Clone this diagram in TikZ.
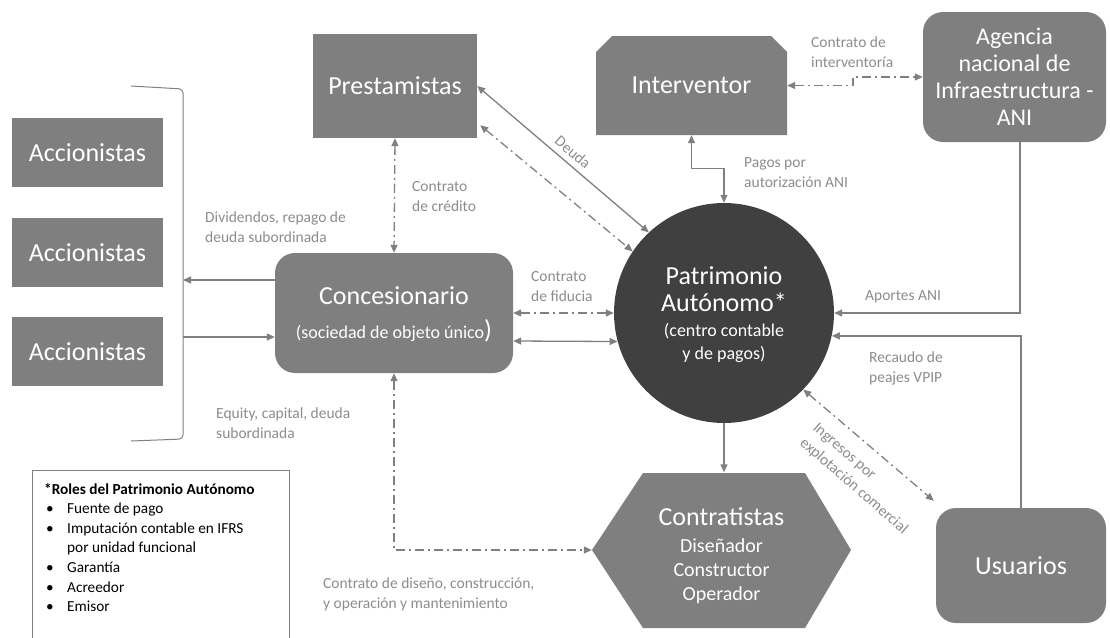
\documentclass[tikz,border=0pt]{standalone}
\usepackage{fontspec}
\setmainfont{Carlito}
\usetikzlibrary{arrows.meta,calc}
\definecolor{boxg}{HTML}{7F7F7F}
\definecolor{darkg}{HTML}{404040}
\definecolor{lineg}{HTML}{808080}
\definecolor{labg}{HTML}{8C8C8C}
\newcommand{\rolebul}{\makebox[23pt][l]{\hspace{2pt}\textbullet}}
\newcommand{\bigf}{\fontsize{26}{28}\selectfont}
\begin{document}
\begin{tikzpicture}[x=1pt,y=-1pt,
  >={Triangle[length=8pt,width=7pt]},
  box/.style={fill=boxg, text=white, inner sep=0pt, align=center},
  big/.style={font=\fontsize{26}{30}\selectfont},
  lab/.style={text=labg, font=\fontsize{15.5}{20}\selectfont, align=left, inner sep=0pt},
  conn/.style={draw=lineg, line width=1.3pt},
  dd/.style={dash pattern=on 9pt off 4pt on 2pt off 4pt},
  brace/.style={draw=lineg, line width=1pt, rounded corners=4pt},
]
\useasboundingbox (0,0) rectangle (1110,637);
\clip (0,0) rectangle (1110,637);

% Accionistas
\node[box, big, minimum width=151pt, minimum height=69pt] (acc1) at (87.5,152.5) {Accionistas};
\node[box, big, minimum width=151pt, minimum height=69pt] (acc2) at (87.5,252.5) {Accionistas};
\node[box, big, minimum width=151pt, minimum height=69pt] (acc3) at (87.5,351.5) {Accionistas};
\draw[brace] (131,86) -- (183,89) -- (183,439) -- (131,441);
\coordinate (brk1) at (183,280);
\coordinate (brk2) at (183,337);

% Prestamistas
\node[box, big, minimum width=164pt, minimum height=104pt] (prest) at (395,86) {Prestamistas};

% Interventor
\fill[boxg] (596,135) -- (596,52) -- (612,36) -- (771,36) -- (787,52) -- (787,135) -- cycle;
\node[text=white, big, minimum width=191pt, minimum height=99pt, inner sep=0pt] (interv) at (691.5,85.5) {\raisebox{-4pt}{Interventor}};

% ANI
\node[box, rounded corners=20pt, minimum width=183pt, minimum height=130pt, font=\fontsize{24}{27}\selectfont] (ani) at (1014.5,77) {Agencia\\nacional de\\Infraestructura -\\ANI};

% Concesionario
\node[box, rounded corners=20pt, minimum width=238pt, minimum height=120pt, font=\fontsize{18}{22}\selectfont] (conc) at (394,313) {\bigf\rule{0pt}{20pt}Concesionario\\[12pt](sociedad de objeto único{\bigf )}};

% Patrimonio
\node[circle, fill=darkg, text=white, minimum size=220pt, inner sep=0pt, align=center, font=\fontsize{18}{23}\selectfont] (pa) at (724,313) {\bigf\rule{0pt}{22pt}Patrimonio\\[4pt]\bigf Autónomo*\\[2pt](centro contable\\y de pagos)};

% Contratistas
\fill[boxg] (592,550) -- (643,473) -- (805,473) -- (851,550) -- (805,628) -- (643,628) -- cycle;
\node[text=white, align=center, minimum width=259pt, minimum height=155pt, inner sep=0pt, font=\fontsize{20}{24}\selectfont] (contr) at (721.5,550) {\bigf\rule{0pt}{30pt}Contratistas\\[3pt]Diseñador\\Constructor\\Operador};

% Usuarios
\node[box, big, rounded corners=20pt, minimum width=170pt, minimum height=115pt] (usu) at (1021,565.5) {Usuarios};

% Roles box
\node[draw=lineg, line width=0.8pt, minimum width=257pt, minimum height=190pt, anchor=north west, inner sep=0pt] (roles) at (32,470) {};
\node[anchor=north west, inner sep=0pt, align=left, font=\fontsize{15.3}{19.6}\selectfont] (rolestext) at (44,483) {\textbf{*Roles del Patrimonio Autónomo}\\\rolebul Fuente de pago\\\rolebul Imputación contable en IFRS\\\hspace*{23pt}por unidad funcional\\\rolebul Garantía\\\rolebul Acreedor\\\rolebul Emisor};

% Labels
\node[lab, anchor=west] (lcred) at (412,197) {Contrato\\de crédito};
\node[lab, anchor=west] (ldiv) at (205,227) {Dividendos, repago de\\deuda subordinada};
\node[lab, anchor=west] (lequ) at (216,423) {Equity, capital, deuda\\subordinada};
\node[lab, anchor=west] (lfid) at (531,287) {Contrato\\de fiducia};
\node[lab, rotate=-40] (ldeuda) at (573,152) {Deuda};
\node[lab, anchor=west] (lint) at (811,52) {Contrato de\\interventoría};
\node[lab, anchor=west] (lpag) at (744,172.5) {Pagos por\\autorización ANI};
\node[lab, anchor=west] (lapo) at (865,297) {Aportes ANI};
\node[lab, anchor=west] (lrec) at (869,368) {Recaudo de\\peajes VPIP};
\node[lab, rotate=-41] (ling) at (860,479) {Ingresos por\\explotación comercial};
\node[lab, anchor=west] (ldis) at (323,594) {Contrato de diseño, construcción,\\y operación y mantenimiento};

% Connectors
\draw[conn,->] (conc.west |- brk1) -- (brk1);
\draw[conn,->] (brk2) -- (conc.west |- brk2);
\draw[conn,dd,<->] (prest.south) -- (conc.north);
\draw[conn,<->] (prest.east) -- (pa.133);
\draw[conn,dd,<->] ($(prest.south east)+(3,-13)$) -- (pa.146);
\draw[conn,dd,<->] (conc.east) -- (pa.west);
\draw[conn,<->] ($(conc.east)+(0,28)$) -- (pa.195);
\draw[conn,<->] (interv.south) -- ++(0,33) -| (pa.north);
\coordinate (kink) at (853,77);
\draw[conn,dd,<->] (interv.east) -| (kink) -- (ani.west);
\draw[conn,->] ($(ani.south)+(5.5,0)$) |- (pa.east);
\draw[conn,->] (usu.north) |- (pa.-12);
\draw[conn,->] (pa.south) -- (pa.south |- contr.north);
\draw[conn,dd,<->] (conc.south) |- (contr.west);
\draw[conn,dd,<->] (pa.-44) -- ($(usu.north west)+(-2,-7)$);
\end{tikzpicture}
\end{document}
